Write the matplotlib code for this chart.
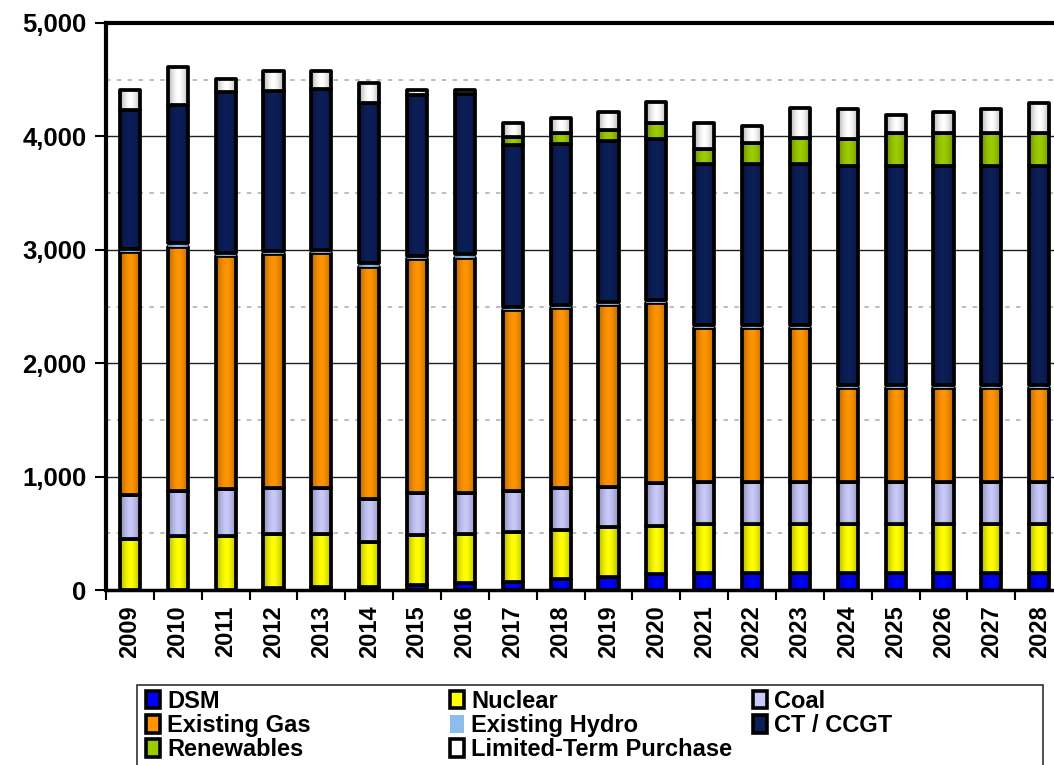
import numpy as np
import matplotlib
matplotlib.use("Agg")
import matplotlib.pyplot as plt
from matplotlib.patches import Patch, Rectangle
from matplotlib.ticker import FuncFormatter, MultipleLocator

plt.rcParams['font.family'] = ['Liberation Sans', 'DejaVu Sans']
plt.rcParams['font.weight'] = 'bold'

# Capacity by resource (MW)
years = [str(y) for y in range(2009, 2029)]
dsm = [0, 0, 0, 20, 30, 30, 40, 60, 73, 94, 112, 138, 147, 147, 147, 147, 147, 147, 147, 147]
nuclear = [450, 479, 479, 474, 461, 390, 445, 434, 441, 435, 446, 429, 435, 435, 435, 435, 435, 435, 435, 435]
coal = [385, 394, 409, 405, 411, 380, 367, 364, 362, 368, 353, 374, 370, 370, 370, 370, 370, 370, 370, 370]
existing_gas = [2143, 2154, 2057, 2061, 2067, 2051, 2064, 2073, 1593, 1587,
                1599, 1587, 1355, 1355, 1355, 827, 827, 827, 827, 827]
existing_hydro = [30, 30, 30, 30, 30, 30, 30, 30, 30, 30, 30, 30, 30, 30, 30, 30, 30, 30, 30, 30]
ct_ccgt = [1223, 1223, 1414, 1410, 1415, 1414, 1423, 1417, 1426, 1420,
           1419, 1416, 1417, 1417, 1417, 1930, 1930, 1930, 1930, 1930]
renewables = [0, 0, 0, 0, 0, 0, 0, 0, 67, 94, 97, 147, 132, 185, 235, 235, 294, 294, 294, 294]
limited_term = [176, 332, 119, 177, 165, 180, 38, 29, 130, 138, 159, 185, 235, 156, 264, 265, 156, 182, 206, 259]

series = [
    ("DSM", dsm, "#0000ff"),
    ("Nuclear", nuclear, "#ffff00"),
    ("Coal", coal, "#c8c8fa"),
    ("Existing Gas", existing_gas, "#ff9400"),
    ("Existing Hydro", existing_hydro, "#8dbdea"),
    ("CT / CCGT", ct_ccgt, "#0b1e58"),
    ("Renewables", renewables, "#9ccc00"),
    ("Limited-Term Purchase", limited_term, "#ffffff"),
]

W, H = 1054, 765
fig = plt.figure(figsize=(W / 100, H / 100), dpi=100)
ax = fig.add_axes([106 / W, 1 - 590 / H, 1 - 106 / W, (590 - 23) / H])

bw = 0.42
x = np.arange(len(years))
bottom = np.zeros(len(years))
for name, vals, color in series:
    vals = np.array(vals, dtype=float)
    if name == "Existing Hydro":
        ax.bar(x, vals, bw, bottom=bottom, color=color, edgecolor='none', zorder=3)
    else:
        ax.bar(x, vals, bw, bottom=bottom, color=color, edgecolor='black',
               linewidth=2.7, zorder=3, joinstyle='round')
    bottom += vals

# soft cylinder-like shading over each column (darker at the sides)
t = np.linspace(-1, 1, 64)
shade = np.zeros((1, 64, 4))
shade[0, :, 3] = 0.32 * np.abs(t) ** 1.6
for xi, total in zip(x, bottom):
    ax.imshow(shade, extent=(xi - bw / 2, xi + bw / 2, 0, total),
              aspect='auto', zorder=3.5, interpolation='bilinear')

ax.set_xlim(-0.5, 19.31)
ax.set_ylim(0, 5000)

# y axis
ax.yaxis.set_major_locator(MultipleLocator(1000))
ax.yaxis.set_minor_locator(MultipleLocator(500))
ax.yaxis.set_major_formatter(FuncFormatter(lambda v, p: f"{int(v):,}"))
ax.tick_params(axis='y', which='major', length=8, width=1.5, direction='out', labelsize=18.5, pad=6)
ax.tick_params(axis='y', which='minor', length=0)
ax.grid(axis='y', which='major', color='#202020', linewidth=1.0, zorder=0)
ax.grid(axis='y', which='minor', color='#b8b8b8', linewidth=1.3, linestyle=(0, (2.5, 3.5)), zorder=0)

# x axis: labels at centres, tick marks between categories
ax.set_xticks(x)
ax.set_xticklabels(years, rotation=90)
ax.set_xticks(np.arange(-0.5, 19.5, 1), minor=True)
ax.tick_params(axis='x', which='major', length=0, labelsize=17, pad=11)
ax.tick_params(axis='x', which='minor', length=7, width=1.5, direction='out')

for lab in ax.get_xticklabels() + ax.get_yticklabels():
    lab.set_fontweight('bold')

ax.spines['right'].set_visible(False)
ax.spines['left'].set_linewidth(3)
ax.spines['top'].set_linewidth(3)
ax.spines['bottom'].set_linewidth(2.5)
ax.set_axisbelow(True)

# legend: framed box with three columns
fig.add_artist(Rectangle((137 / W, 1 - 790 / H), (1043 - 137) / W, 105 / H,
                         transform=fig.transFigure, facecolor='white',
                         edgecolor='#303030', linewidth=1.2))

handles = {}
for name, vals, color in series:
    if name == "Existing Hydro":
        handles[name] = Patch(facecolor=color, edgecolor='none')
    else:
        handles[name] = Patch(facecolor=color, edgecolor='black', linewidth=2.6)

columns = [
    (146, ["DSM", "Existing Gas", "Renewables"]),
    (450, ["Nuclear", "Existing Hydro", "Limited-Term Purchase"]),
    (753, ["Coal", "CT / CCGT"]),
]
for xpos, names in columns:
    fig.legend([handles[n] for n in names], names, loc='upper left',
               bbox_to_anchor=(xpos / W, 1 - 690 / H), frameon=False,
               prop={'size': 17, 'weight': 'bold'}, handlelength=0.6,
               handleheight=0.75, handletextpad=0.3, labelspacing=0.05,
               borderpad=0.0, borderaxespad=0.0)

fig.savefig("out.png", dpi=100)
